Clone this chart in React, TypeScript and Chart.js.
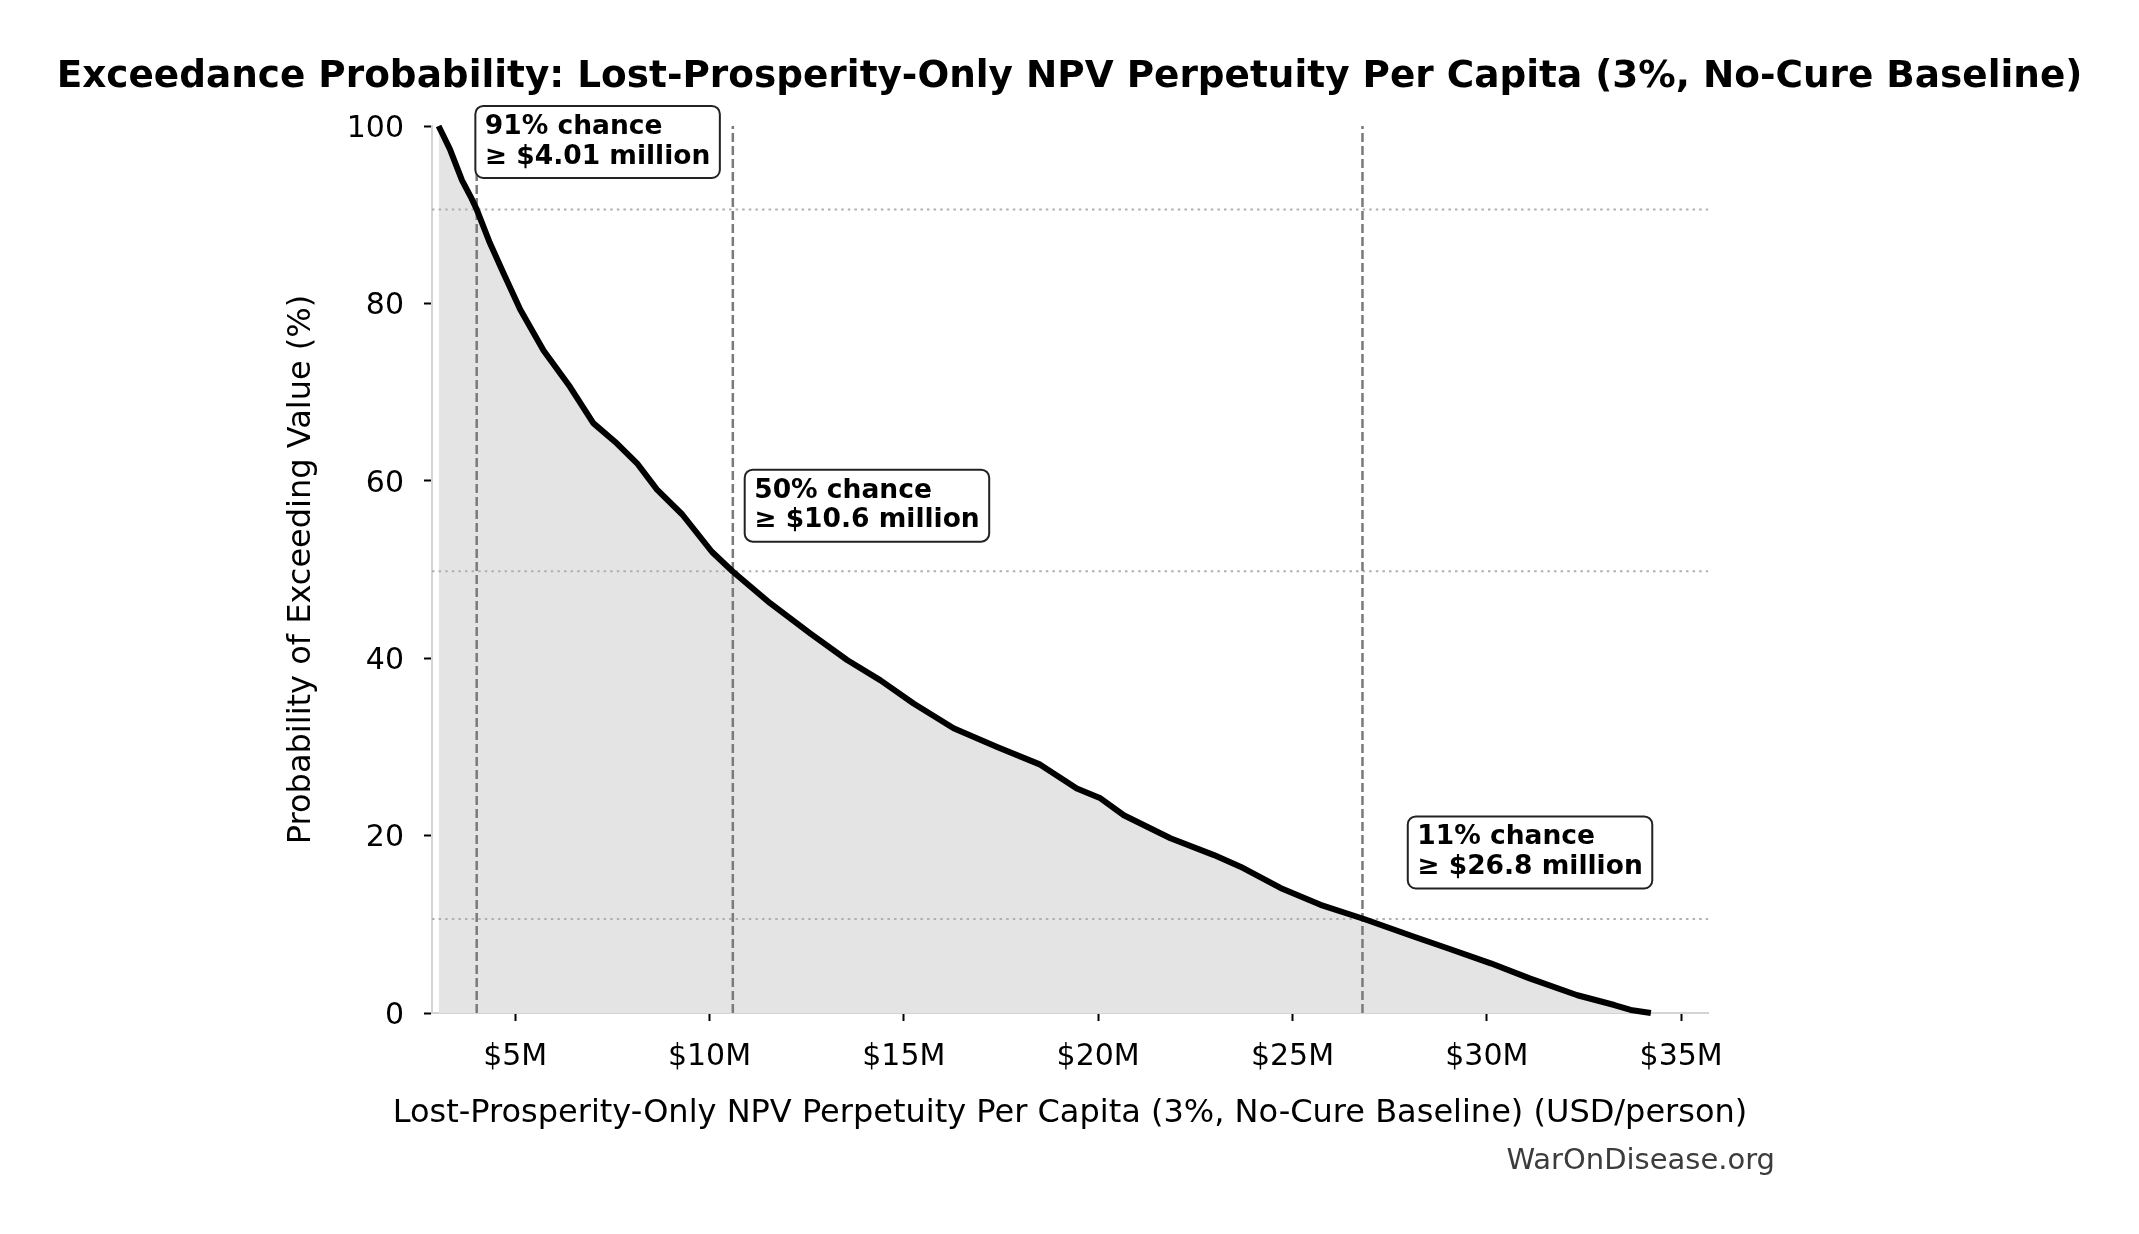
import React, { useEffect, useRef } from 'react';
import { Chart, registerables } from 'chart.js';

Chart.register(...registerables);

// exceedance curve (USD millions per person vs % chance)
const npvMillions = [
  3.03, 3.32, 3.63, 3.88, 4.01, 4.35, 4.7, 5.13, 5.73, 6.41, 7.01, 7.62, 8.13, 8.65,
  9.3, 10.06, 10.59, 11.56, 12.59, 13.54, 14.4, 15.25, 16.28, 17.4, 18.51, 19.45,
  20.06, 20.66, 21.86, 22.98, 23.66, 24.69, 25.72, 26.84, 28.13, 28.99, 30.1, 31.1,
  32.33, 33.28, 33.7, 34.22,
];
const exceedPct = [
  100, 97.4, 93.9, 91.8, 90.6, 86.8, 83.4, 79.3, 74.7, 70.6, 66.5, 64.2, 62.0, 59.0,
  56.2, 52.0, 49.8, 46.2, 42.8, 39.8, 37.5, 34.9, 32.1, 30.0, 28.0, 25.3,
  24.2, 22.3, 19.7, 17.8, 16.5, 14.1, 12.2, 10.6, 8.6, 7.3, 5.6, 3.9,
  2.0, 0.9, 0.34, 0,
];

const xTickValues = [5, 10, 15, 20, 25, 30, 35];

// highlighted thresholds
const markerValues = [4.01, 10.6, 26.8];
const markerPct = [90.6, 49.8, 10.6];
const markerChance = ['91% chance', '50% chance', '11% chance'];
const markerAmount = ['≥ $4.01 million', '≥ $10.6 million', '≥ $26.8 million'];
// where each label box sits (text left edge, first baseline) in data units
const labelX = [4.22, 11.15, 28.21];
const labelY = [99.1, 58.1, 19.0];

const TITLE =
  'Exceedance Probability: Lost-Prosperity-Only NPV Perpetuity Per Capita (3%, No-Cure Baseline)';
const X_TITLE =
  'Lost-Prosperity-Only NPV Perpetuity Per Capita (3%, No-Cure Baseline) (USD/person)';
const Y_TITLE = 'Probability of Exceeding Value (%)';
const CREDIT = 'WarOnDisease.org';

const FONT = '"DejaVu Sans", sans-serif';

const overlay = {
  id: 'overlay',
  afterDatasetDraw(chart: any, args: any) {
    // reference lines go on top of the fill but under the curve
    if (args.index !== 0) return;
    const { ctx, chartArea: a, scales } = chart;
    const x = scales.x;
    const y = scales.y;
    ctx.save();
    ctx.lineCap = 'butt';
    ctx.strokeStyle = '#b0b0b0';
    ctx.lineWidth = 2;
    ctx.setLineDash([2.5, 4.1]);
    markerPct.forEach((p) => {
      const py = y.getPixelForValue(p);
      ctx.beginPath();
      ctx.moveTo(a.left, py);
      ctx.lineTo(a.right, py);
      ctx.stroke();
    });
    ctx.strokeStyle = '#7a7a7a';
    ctx.lineWidth = 2.5;
    ctx.setLineDash([9, 4]);
    markerValues.forEach((v) => {
      const px = x.getPixelForValue(v);
      ctx.beginPath();
      ctx.moveTo(px, a.bottom);
      ctx.lineTo(px, a.top);
      ctx.stroke();
    });
    ctx.restore();
  },
  afterDraw(chart: any) {
    const { ctx, chartArea: a, scales } = chart;
    const x = scales.x;
    const y = scales.y;
    ctx.save();
    ctx.textBaseline = 'alphabetic';
    ctx.fillStyle = '#000';

    ctx.font = `bold 37.4px ${FONT}`;
    ctx.textAlign = 'center';
    ctx.fillText(TITLE, chart.width / 2, 87);

    ctx.font = `32px ${FONT}`;
    ctx.fillText(X_TITLE, (a.left + a.right) / 2, 1122);

    ctx.save();
    ctx.translate(310, (a.top + a.bottom) / 2);
    ctx.rotate(-Math.PI / 2);
    ctx.fillText(Y_TITLE, 0, 0);
    ctx.restore();

    ctx.font = `29px ${FONT}`;
    ctx.fillStyle = '#3c3c3c';
    ctx.textAlign = 'right';
    ctx.fillText(CREDIT, 1775, 1169);

    // label boxes
    ctx.font = `bold 26.5px ${FONT}`;
    ctx.textAlign = 'left';
    markerChance.forEach((line1, i) => {
      const line2 = markerAmount[i];
      const tx = x.getPixelForValue(labelX[i]);
      const ty = y.getPixelForValue(labelY[i]);
      const w = Math.max(ctx.measureText(line1).width, ctx.measureText(line2).width);
      ctx.beginPath();
      ctx.roundRect(tx - 9.5, ty - 28, w + 19, 72, 8);
      ctx.fillStyle = '#fff';
      ctx.fill();
      ctx.lineWidth = 2;
      ctx.strokeStyle = '#222';
      ctx.stroke();
      ctx.fillStyle = '#000';
      ctx.fillText(line1, tx, ty);
      ctx.fillText(line2, tx, ty + 29.7);
    });
    ctx.restore();
  },
};

const App: React.FC = () => {
  const canvasRef = useRef<HTMLCanvasElement>(null);
  const chartRef = useRef<Chart | null>(null);

  useEffect(() => {
    if (!canvasRef.current) return;
    if (chartRef.current) {
      chartRef.current.destroy();
      chartRef.current = null;
    }

    const points = npvMillions.map((v, i) => ({ x: v, y: exceedPct[i] }));

    chartRef.current = new Chart(canvasRef.current, {
      type: 'line',
      data: {
        datasets: [
          {
            data: points,
            order: 1,
            borderWidth: 0,
            backgroundColor: '#e4e4e4',
            fill: 'origin',
            pointRadius: 0,
            tension: 0,
          },
          {
            data: points,
            order: 0,
            borderColor: '#000',
            borderWidth: 6,
            borderJoinStyle: 'round',
            fill: false,
            pointRadius: 0,
            tension: 0,
            clip: false,
          },
        ],
      },
      options: {
        animation: false,
        responsive: true,
        maintainAspectRatio: false,
        devicePixelRatio: 1,
        events: [],
        layout: { padding: { left: 0, right: 431, top: 126, bottom: 0 } },
        plugins: {
          legend: { display: false },
          tooltip: { enabled: false },
          title: { display: false },
        },
        scales: {
          x: {
            type: 'linear',
            min: 2.86,
            max: 35.69,
            afterBuildTicks: (s: any) => {
              s.ticks = xTickValues.map((v) => ({ value: v }));
            },
            afterFit: (s: any) => {
              s.height = 221;
            },
            ticks: {
              callback: (v: any) => `$${v}M`,
              font: { family: FONT, size: 30 },
              color: '#000',
              padding: 18,
              maxRotation: 0,
              autoSkip: false,
            },
            grid: {
              drawOnChartArea: false,
              drawTicks: true,
              tickLength: 8,
              tickColor: '#000',
              tickWidth: 2,
            },
            border: { display: true, color: '#d4d4d4', width: 2 },
          },
          y: {
            min: 0,
            max: 100,
            afterFit: (s: any) => {
              s.width = 432;
            },
            ticks: {
              stepSize: 20,
              font: { family: FONT, size: 30 },
              color: '#000',
              padding: 20,
              labelOffset: 3,
            },
            grid: {
              drawOnChartArea: false,
              drawTicks: true,
              tickLength: 8,
              tickColor: '#000',
              tickWidth: 2,
            },
            border: { display: true, color: '#d4d4d4', width: 2 },
          },
        },
      },
      plugins: [overlay],
    });

    return () => {
      if (chartRef.current) {
        chartRef.current.destroy();
        chartRef.current = null;
      }
    };
  }, []);

  return (
    <div
      style={{
        position: 'fixed',
        left: 0,
        top: 0,
        width: 2139,
        height: 1234,
        background: '#fff',
      }}
    >
      <canvas ref={canvasRef}></canvas>
    </div>
  );
};

export default App;
